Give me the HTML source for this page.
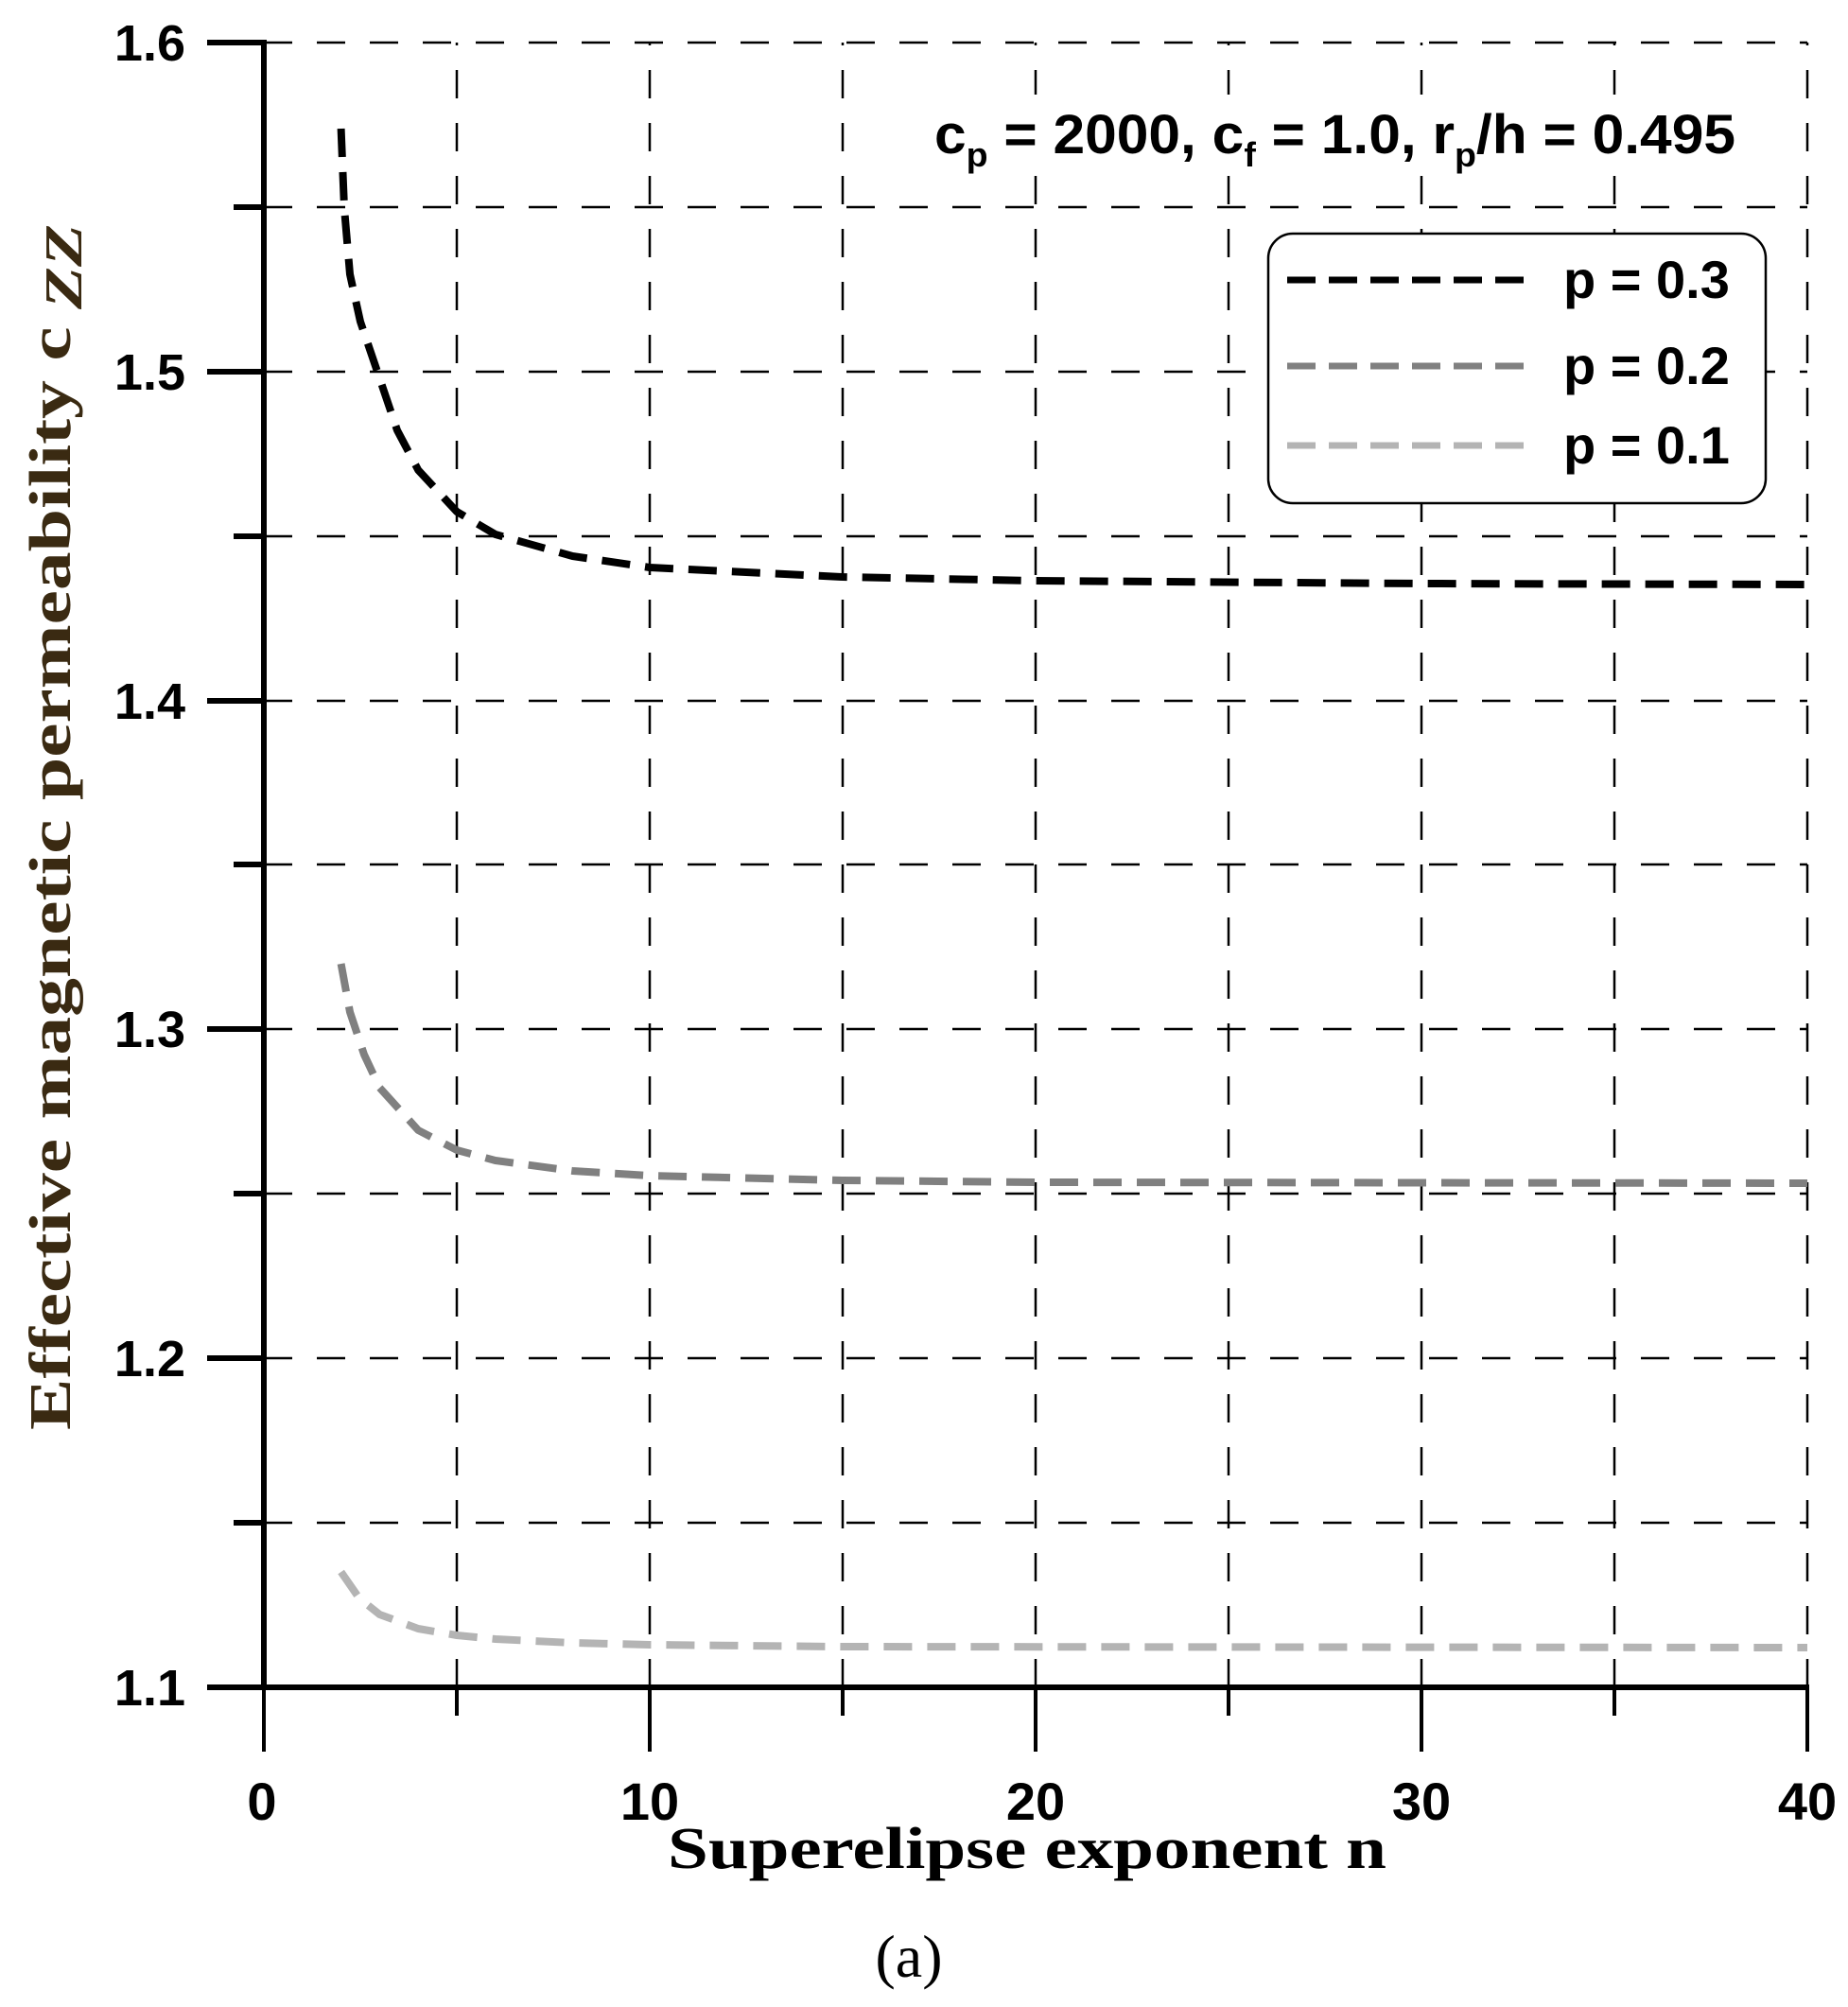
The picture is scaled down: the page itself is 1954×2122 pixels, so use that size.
<!DOCTYPE html>
<html><head><meta charset="utf-8"><style>html,body{margin:0;padding:0;background:#fff}svg{display:block}</style></head>
<body>
<svg width="1954" height="2122" viewBox="0 0 1954 2122" xmlns="http://www.w3.org/2000/svg">
<rect width="1954" height="2122" fill="#fff"/>
<g stroke="#000" stroke-width="2.5" stroke-dasharray="30,26" fill="none">
<line x1="279" y1="45" x2="1911" y2="45"/>
<line x1="279" y1="219" x2="1911" y2="219"/>
<line x1="279" y1="393" x2="1911" y2="393"/>
<line x1="279" y1="567" x2="1911" y2="567"/>
<line x1="279" y1="741" x2="1911" y2="741"/>
<line x1="279" y1="914" x2="1911" y2="914"/>
<line x1="279" y1="1088" x2="1911" y2="1088"/>
<line x1="279" y1="1262" x2="1911" y2="1262"/>
<line x1="279" y1="1436" x2="1911" y2="1436"/>
<line x1="279" y1="1610" x2="1911" y2="1610"/>
<line x1="483" y1="1784" x2="483" y2="45"/>
<line x1="687" y1="1784" x2="687" y2="45"/>
<line x1="891" y1="1784" x2="891" y2="45"/>
<line x1="1095" y1="1784" x2="1095" y2="45"/>
<line x1="1299" y1="1784" x2="1299" y2="45"/>
<line x1="1503" y1="1784" x2="1503" y2="45"/>
<line x1="1707" y1="1784" x2="1707" y2="45"/>
<line x1="1911" y1="1784" x2="1911" y2="45"/>
</g>
<rect x="982" y="100" width="868" height="84" fill="#fff"/>
<g stroke="#000" stroke-width="6" fill="none">
<line x1="279" y1="42" x2="279" y2="1787"/>
<line x1="276" y1="1784" x2="1913" y2="1784"/>
<line x1="219" y1="45" x2="279" y2="45"/>
<line x1="219" y1="393" x2="279" y2="393"/>
<line x1="219" y1="741" x2="279" y2="741"/>
<line x1="219" y1="1088" x2="279" y2="1088"/>
<line x1="219" y1="1436" x2="279" y2="1436"/>
<line x1="219" y1="1784" x2="279" y2="1784"/>
<line x1="247" y1="219" x2="279" y2="219"/>
<line x1="247" y1="567" x2="279" y2="567"/>
<line x1="247" y1="914" x2="279" y2="914"/>
<line x1="247" y1="1262" x2="279" y2="1262"/>
<line x1="247" y1="1610" x2="279" y2="1610"/>
</g>
<g stroke="#000" stroke-width="4">
<line x1="279" y1="1784" x2="279" y2="1852"/>
<line x1="687" y1="1784" x2="687" y2="1852"/>
<line x1="1095" y1="1784" x2="1095" y2="1852"/>
<line x1="1503" y1="1784" x2="1503" y2="1852"/>
<line x1="1911" y1="1784" x2="1911" y2="1852"/>
<line x1="483" y1="1784" x2="483" y2="1814"/>
<line x1="891" y1="1784" x2="891" y2="1814"/>
<line x1="1299" y1="1784" x2="1299" y2="1814"/>
<line x1="1707" y1="1784" x2="1707" y2="1814"/>
</g>
<g font-family="Liberation Sans, sans-serif" font-weight="bold" font-size="54" fill="#000" text-anchor="end">
<text x="196" y="64">1.6</text>
<text x="196" y="412">1.5</text>
<text x="196" y="760">1.4</text>
<text x="196" y="1107">1.3</text>
<text x="196" y="1455">1.2</text>
<text x="196" y="1803">1.1</text>
</g>
<g font-family="Liberation Sans, sans-serif" font-weight="bold" font-size="56" fill="#000" text-anchor="middle">
<text x="277" y="1924">0</text>
<text x="687" y="1924">10</text>
<text x="1095" y="1924">20</text>
<text x="1503" y="1924">30</text>
<text x="1911" y="1924">40</text>
</g>
<text x="1086" y="1975" font-family="Liberation Serif, serif" font-weight="bold" font-size="62" text-anchor="middle" textLength="760" lengthAdjust="spacingAndGlyphs">Superelipse exponent n</text>
<text x="961" y="2090" font-family="Liberation Serif, serif" font-size="64" text-anchor="middle">(a)</text>
<text transform="translate(74,1512) rotate(-90)" font-family="Liberation Serif, serif" font-weight="bold" font-size="62" fill="#3a2a12" textLength="1275" lengthAdjust="spacingAndGlyphs">Effective magnetic permeability c<tspan font-style="italic" dy="12" font-size="56"> ZZ</tspan></text>
<text x="988" y="162" font-family="Liberation Sans, sans-serif" font-weight="bold" font-size="58" fill="#000" textLength="847" lengthAdjust="spacingAndGlyphs">c<tspan font-size="36" dy="14">p</tspan><tspan dy="-14"> = 2000, c</tspan><tspan font-size="36" dy="14">f</tspan><tspan dy="-14"> = 1.0, r</tspan><tspan font-size="36" dy="14">p</tspan><tspan dy="-14">/h = 0.495</tspan></text>
<rect x="1341" y="247" width="526" height="285" rx="26" fill="#fff" stroke="#000" stroke-width="2.5"/>
<g stroke-width="7" stroke-dasharray="30,14" fill="none">
<line x1="1361" y1="296" x2="1622" y2="296" stroke="#000"/>
<line x1="1361" y1="387" x2="1622" y2="387" stroke="#808080"/>
<line x1="1361" y1="471" x2="1622" y2="471" stroke="#b4b4b4"/>
</g>
<g font-family="Liberation Sans, sans-serif" font-weight="bold" font-size="56" fill="#000">
<text x="1653" y="315">p = 0.3</text>
<text x="1653" y="406">p = 0.2</text>
<text x="1653" y="490">p = 0.1</text>
</g>
<g stroke-width="8" stroke-dasharray="30,16" fill="none" stroke-linejoin="round">
<polyline stroke="#000" points="360.6,136 364,220 370,290 381,340 401.4,400 420,455 442.2,497 483,541 523.8,565 605.4,588 687,600 891,610 1095,614 1503,617 1911,618"/>
<polyline stroke="#808080" points="360.6,1019 370,1070 385,1115 401.4,1150 442.2,1195 483,1216 523.8,1227 605.4,1238 687,1243 891,1248 1095,1250 1911,1251"/>
<polyline stroke="#b4b4b4" points="360.6,1662 380,1690 401.4,1707 442.2,1722 483,1729 523.8,1733 605.4,1737 687,1739 891,1741 1911,1742"/>
</g>
</svg>
</body></html>
